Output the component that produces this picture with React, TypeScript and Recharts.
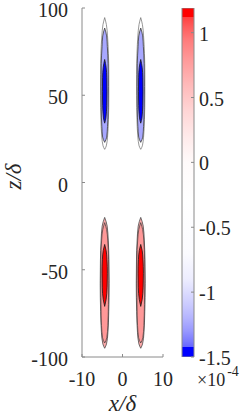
import { ComposedChart, Area, XAxis, YAxis, Label, BarChart, Bar } from 'recharts';

const xTicks = [-10, 0, 10];
const zTicks = [-100, -50, 0, 50, 100];
const cbTicks = [-1.5, -1, -0.5, 0, 0.5, 1];
const cbRange = [-1.5, 1.19];

// x/δ position of each lobe
const blueCentres = [-4.4, 4.5];
const redCentres = [-4.4, 4.5];

// contour outlines, [z/δ, half width in x/δ]
const blueOuter = [[19, 0], [21, 0.4], [26, 0.7], [36, 0.92], [50, 1.02], [62, 1.02], [74, 0.92], [84, 0.7], [90.5, 0.42], [94.5, 0]];
const blueMid = [[23, 0], [26, 0.5], [32, 0.7], [42, 0.85], [55, 0.9], [68, 0.85], [78, 0.65], [84, 0.48], [88.5, 0]];
const blueCore = [[34, 0], [37, 0.3], [44, 0.5], [52, 0.56], [60, 0.52], [66, 0.36], [70.5, 0]];

const redOuter = [[-95, 0], [-92.5, 0.45], [-86, 0.8], [-74, 1.0], [-58, 1.1], [-45, 1.05], [-33, 0.88], [-25, 0.62], [-20, 0]];
const redMid = [[-92, 0], [-89, 0.52], [-82, 0.78], [-70, 0.92], [-56, 1.0], [-44, 0.95], [-33, 0.75], [-27, 0.48], [-23, 0]];
const redCore = [[-71, 0], [-67, 0.36], [-60, 0.6], [-52, 0.66], [-44, 0.56], [-39, 0.36], [-35.5, 0]];

// colour map of the colour bar, [value ×1e4, colour]
const cmap: [number, string][] = [
  [1.19, '#ff0000'], [1.12, '#ff0000'], [1.12, '#ff4040'], [1.04, '#ff5e5e'], [0.95, '#ff7a7a'],
  [0.8, '#ff9898'], [0.6, '#ffb9b9'], [0.4, '#ffd5d5'], [0.2, '#ffeaea'], [0, '#fffafa'],
  [-0.3, '#ffffff'], [-0.7, '#fbfbff'], [-0.9, '#ededff'], [-1.0, '#dcdcff'], [-1.1, '#cacaff'],
  [-1.2, '#b4b4ff'], [-1.3, '#9898ff'], [-1.38, '#7a7aff'], [-1.42, '#6666ff'], [-1.42, '#0000ff'],
  [-1.5, '#0000ff'],
];

const font = 'Liberation Serif';
const ink = '#262626';
const axisGray = '#8a8a8a';

const toRows = (c: number, prof: number[][]) => prof.map(([z, w]) => ({ z, x: [c - w, c + w] }));

const levels = [
  { prof: blueOuter, centres: blueCentres, fill: '#ffffff', stroke: '#6a6a6a', sw: 0.7 },
  { prof: blueMid, centres: blueCentres, fill: '#a8a8ff', stroke: '#3a3a3a', sw: 0.8 },
  { prof: blueCore, centres: blueCentres, fill: '#0000ff', stroke: '#1a1a1a', sw: 0.8 },
  { prof: redOuter, centres: redCentres, fill: '#ffaaaa', stroke: '#4a4a4a', sw: 0.8 },
  { prof: redMid, centres: redCentres, fill: '#ff9898', stroke: '#3a3a3a', sw: 0.7 },
  { prof: redCore, centres: redCentres, fill: '#ff0000', stroke: '#1a1a1a', sw: 0.8 },
];

const tickStyle = { fontFamily: font, fontSize: 20, fill: ink };

const ZLabel = (props: any) => {
  const vb = props.viewBox;
  const x = vb.x + 13;
  const y = vb.y + vb.height / 2 - 6;
  return (
    <text x={x} y={y} transform={`rotate(-90, ${x}, ${y})`} textAnchor="middle" dominantBaseline="central"
      fontFamily={font} fontSize={23} fontStyle="italic" fill={ink}>z/δ</text>
  );
};

const XLabel = (props: any) => {
  const vb = props.viewBox;
  return (
    <text x={vb.x + vb.width / 2} y={vb.y + vb.height - 4} textAnchor="middle"
      fontFamily={font} fontSize={23} fontStyle="italic" fill={ink}>x/δ</text>
  );
};

const ExpLabel = (props: any) => {
  const vb = props.viewBox;
  return (
    <text x={vb.x + 3} y={vb.y + vb.height + 29} fontFamily={font} fontSize={18} fill={ink}>
      ×10<tspan dx={2} dy={-10} fontSize={14}>-4</tspan>
    </text>
  );
};

export default function App() {
  const cbData = [{ k: 'cb', v: cbRange }];
  const span = cbRange[1] - cbRange[0];
  return (
    <div style={{ position: 'relative', width: 249, height: 415, fontFamily: font }}>
      <style>{'body{margin:0}'}</style>
      <div style={{ position: 'absolute', left: 0, top: 0 }}>
        <BarChart width={249} height={415} data={cbData} margin={{ top: 8, right: 5, bottom: 58, left: 182 }} barCategoryGap={0}>
          <defs>
            <linearGradient id="cbGrad" x1="0" y1="0" x2="0" y2="1">
              {cmap.map(([v, c], i) => (
                <stop key={i} offset={(cbRange[1] - v) / span} stopColor={c} />
              ))}
            </linearGradient>
          </defs>
          <XAxis dataKey="k" hide height={0} />
          <YAxis orientation="right" type="number" domain={cbRange} ticks={cbTicks} interval={0} allowDataOverflow
            width={50} axisLine={false} tickSize={-3} tickMargin={8} tickLine={{ stroke: axisGray }}
            tick={{ ...tickStyle, textAnchor: 'start', dy: 1 }}>
            <Label content={ExpLabel} />
          </YAxis>
          <Bar dataKey="v" fill="url(#cbGrad)" stroke={axisGray} strokeWidth={1} isAnimationActive={false} />
        </BarChart>
      </div>
      <div style={{ position: 'absolute', left: 0, top: 0 }}>
        <ComposedChart width={249} height={415} layout="vertical" margin={{ top: 8, right: 86, bottom: 0, left: 0 }}>
          <XAxis xAxisId="b" type="number" domain={[-10, 10]} ticks={xTicks} interval={0} allowDataOverflow
            height={58} stroke={axisGray} tickSize={-3} tickMargin={18} tick={tickStyle}>
            <Label content={XLabel} />
          </XAxis>
          <XAxis xAxisId="t" orientation="top" type="number" domain={[-10, 10]} ticks={xTicks} interval={0}
            height={0} stroke={axisGray} tickSize={-3} tick={false} />
          <YAxis yAxisId="l" dataKey="z" type="number" domain={[-100, 100]} ticks={zTicks} interval={0} allowDataOverflow
            reversed width={82} stroke={axisGray} tickSize={-3} tickMargin={17} tick={{ ...tickStyle, dy: 2 }}>
            <Label content={ZLabel} />
          </YAxis>
          <YAxis yAxisId="r" orientation="right" dataKey="z" type="number" domain={[-100, 100]} ticks={zTicks} interval={0}
            reversed width={0} stroke={axisGray} tickSize={-3} tick={false} />
          {levels.map((lv, i) =>
            lv.centres.map((c, j) => (
              <Area key={`${i}-${j}`} xAxisId="b" yAxisId="l" data={toRows(c, lv.prof)} dataKey="x" type="monotone"
                fill={lv.fill} fillOpacity={1} stroke={lv.stroke} strokeWidth={lv.sw}
                dot={false} activeDot={false} isAnimationActive={false} />
            ))
          )}
        </ComposedChart>
      </div>
    </div>
  );
}
